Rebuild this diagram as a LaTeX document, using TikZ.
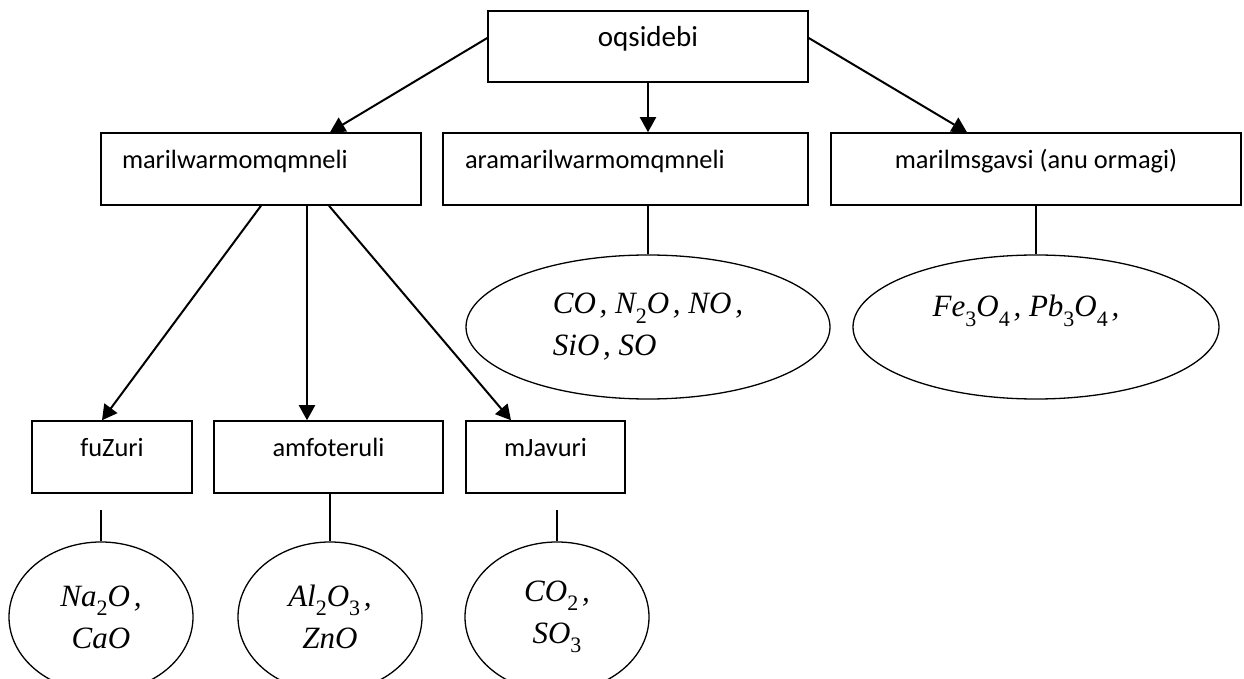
\documentclass[tikz,border=0pt]{standalone}
\usepackage{fontspec}
\setmainfont{Carlito}
\newfontfamily\formfont{Liberation Serif}
\usetikzlibrary{arrows.meta,shapes.geometric}
\newcommand{\sbs}[1]{\raisebox{-0.3em}{\upshape\fontsize{11pt}{11pt}\selectfont #1}}
\newcommand{\cm}{\kern0.12em,}
\begin{document}
\begin{tikzpicture}[x=0.5pt,y=-0.5pt,
  boxbase/.style={draw, line width=0.75pt, inner sep=0pt, text height=4pt, text depth=4pt,
    font=\fontsize{13.2pt}{16pt}\selectfont},
  cbox/.style={boxbase, minimum height=36pt},
  lbox/.style={boxbase, minimum height=36pt, align=left},
  oval/.style={draw, ellipse, line width=0.65pt, inner sep=0pt,
    font=\formfont\itshape\fontsize{15.5pt}{21pt}\selectfont},
  arr/.style={line width=1pt, -{Triangle[length=7.5pt,width=8pt]}},
  thin/.style={line width=0.6pt}]
\useasboundingbox (0,0) rectangle (1244,679);
% level 1
\node[cbox, minimum width=160pt, minimum height=35.5pt, font=\fontsize{14.5pt}{17pt}\selectfont] (top) at (648,46.5) {oqsidebi};
% level 2
\node[lbox, text width=139pt, inner xsep=10.5pt] (m1) at (261,169) {marilwarmomqmneli};
\node[lbox, text width=160.5pt, inner xsep=11pt] (m2) at (625.5,169) {aramarilwarmomqmneli};
\node[cbox, minimum width=205pt] (m3) at (1036,169) {marilmsgavsi (anu ormagi)};
% level 3
\node[cbox, minimum width=80pt] (l1) at (112,457) {fuZuri};
\node[cbox, minimum width=114.5pt] (l2) at (328.5,457) {amfoteruli};
\node[cbox, minimum width=79.5pt] (l3) at (545.5,457) {mJavuri};
% ellipses
\node[oval, minimum width=182pt, minimum height=72pt, align=left] (e2) at (648,327)
  {CO\cm{} N\sbs{2}O\cm{} NO\cm\\ SiO\cm{} SO};
\node[oval, minimum width=183pt, minimum height=72pt, align=left] (e3) at (1036,327)
  {Fe\sbs{3}O\sbs{4}\cm{} Pb\sbs{3}O\sbs{4}\cm\hspace*{10pt}\\ \mbox{}};
\node[oval, minimum width=92pt, minimum height=75pt, align=center] (f1) at (101,617)
  {Na\sbs{2}O\cm\\ CaO};
\node[oval, minimum width=92pt, minimum height=75pt, align=center] (f2) at (330,617)
  {Al\sbs{2}O\sbs{3}\cm\\ ZnO};
\node[oval, minimum width=92pt, minimum height=75pt, align=center] (f3) at (557,617)
  {CO\sbs{2}\cm\\ SO\sbs{3}};
% arrows from top
\draw[arr] ([yshift=4.25pt]top.west) -- ([xshift=34.5pt]m1.north);
\draw[arr] (top.south) -- (top.south |- m2.north);
\draw[arr] ([yshift=4.25pt]top.east) -- ([xshift=-34.5pt]m3.north);
% arrows from m1
\coordinate (a1) at ([xshift=0pt]m1.south);
\coordinate (a2) at ([xshift=23pt]m1.south);
\coordinate (a3) at ([xshift=34pt]m1.south);
\draw[arr] (a1) -- ([xshift=-5pt]l1.north);
\draw[arr] (a2) -- (a2 |- l2.north);
\draw[arr] (a3) -- ([xshift=-17.25pt]l3.north);
% plain lines
\draw[thin] (e2.north |- m2.south) -- (e2.north);
\draw[thin] (m3.south) -- (e3.north);
\coordinate (c1) at (101,510);
\coordinate (c3) at (557,510);
\draw[thin] (c1) -- (f1.north);
\draw[thin] (f2.north |- l2.south) -- (f2.north);
\draw[thin] (c3) -- (f3.north);
\end{tikzpicture}
\end{document}
